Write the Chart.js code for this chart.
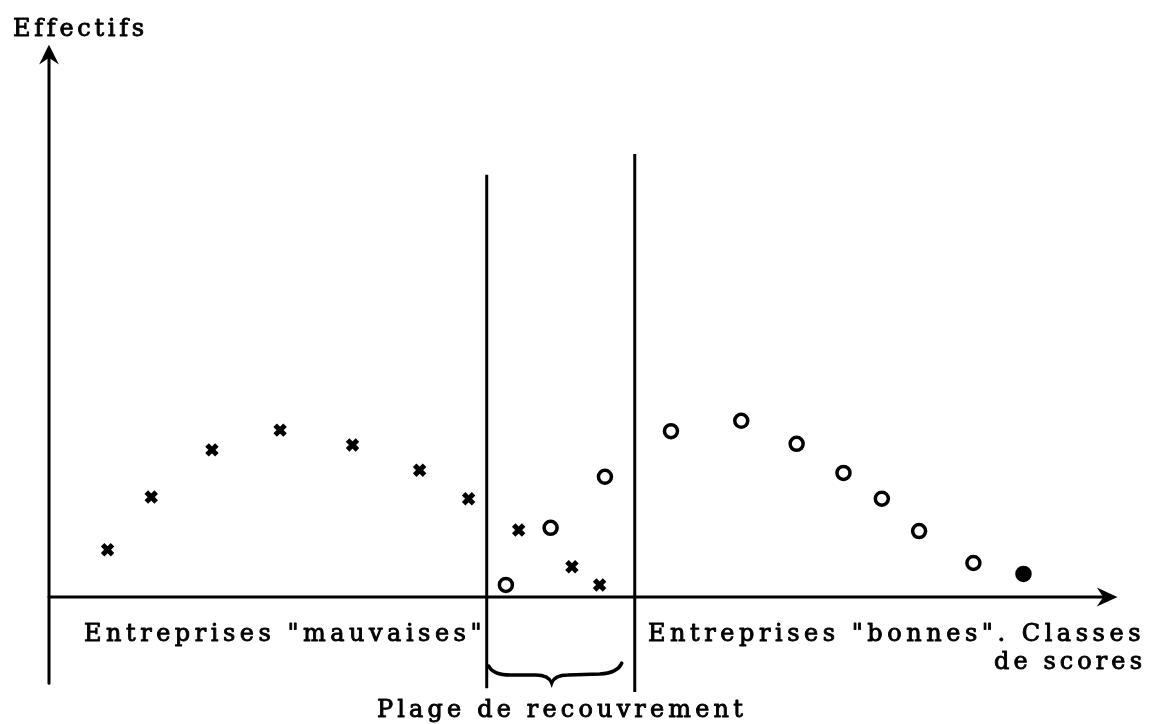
<!DOCTYPE html>
<html>
<head>
<meta charset="utf-8">
<script src="https://cdn.jsdelivr.net/npm/chart.js@4/dist/chart.umd.min.js"></script>
<style>
  body { margin: 0; background: #fff; }
  #wrap { width: 1154px; height: 724px; }
</style>
</head>
<body>
<div id="wrap"><canvas id="c" width="1154" height="724"></canvas></div>
<script>
// Classes de scores (x) and effectifs (y)
const mauvX = [5.5, 9.6, 15.3, 21.7, 28.5, 34.8, 39.4, 44.1, 49.1, 51.7];
const mauvY = [8.6, 18.2, 26.8, 30.4, 27.7, 23.1, 17.9, 12.2, 5.5, 2.2];
const bonX = [42.9, 47.1, 52.2, 58.4, 65.0, 70.2, 74.6, 78.2, 81.7, 86.8, 91.5];
const bonY = [2.2, 12.6, 21.9, 30.2, 32.1, 27.9, 22.6, 17.9, 12.0, 6.2, 4.2];

// Overlap zone boundaries (x) and how far they reach (y)
const leftBound = 41.1;
const rightBound = 55.0;
const leftBoundY = [-16.6, 76.9];
const rightBoundY = [-17.3, 80.7];
const yAxisBottom = -15.7;

// Labels
const yTitle = "Effectifs";
const badLabel = "Entreprises \"mauvaises\"";
const goodLabel = "Entreprises \"bonnes\". Classes";
const xTitle2 = "de scores";
const overlapLabel = "Plage de recouvrement";

const toPts = (xs, ys) => xs.map((x, i) => ({ x, y: ys[i] }));

// draw axes, arrows, brace and texts
const drawing = {
  id: "drawing",
  afterDatasetsDraw(chart) {
    const ctx = chart.ctx;
    const sx = chart.scales.x, sy = chart.scales.y;
    const X = v => sx.getPixelForValue(v);
    const Y = v => sy.getPixelForValue(v);
    ctx.save();
    ctx.strokeStyle = "#000";
    ctx.fillStyle = "#000";
    ctx.lineWidth = 3;
    ctx.lineCap = "round";

    // y axis
    ctx.beginPath();
    ctx.moveTo(X(0), Y(yAxisBottom));
    ctx.lineTo(X(0), Y(100) + 4);
    ctx.stroke();
    ctx.beginPath();
    ctx.moveTo(X(0), Y(100));
    ctx.lineTo(X(0) - 6, Y(100) + 12);
    ctx.lineTo(X(0), Y(100) + 8);
    ctx.lineTo(X(0) + 6, Y(100) + 12);
    ctx.closePath();
    ctx.fill();
    ctx.stroke();

    // x axis
    ctx.beginPath();
    ctx.moveTo(X(0), Y(0));
    ctx.lineTo(X(100) - 4, Y(0));
    ctx.stroke();
    ctx.beginPath();
    ctx.moveTo(X(100), Y(0));
    ctx.lineTo(X(100) - 13, Y(0) - 6);
    ctx.lineTo(X(100) - 9, Y(0));
    ctx.lineTo(X(100) - 13, Y(0) + 6);
    ctx.closePath();
    ctx.fill();
    ctx.stroke();

    // brace under the overlap zone
    const bx0 = X(leftBound) + 2, bx1 = X(rightBound) - 13;
    const bm = X(47.2);
    const by = Y(0) + 78, bt = Y(0) + 86, be = Y(0) + 69;
    ctx.lineWidth = 3.5;
    ctx.beginPath();
    ctx.moveTo(bx0, be);
    ctx.quadraticCurveTo(bx0 + 4, by, bx0 + 22, by);
    ctx.lineTo(bm - 16, by);
    ctx.quadraticCurveTo(bm - 3, by, bm, bt);
    ctx.quadraticCurveTo(bm + 3, by, bm + 16, by);
    ctx.lineTo(bx1 - 22, by - 1);
    ctx.quadraticCurveTo(bx1 - 4, by - 2, bx1, be - 3);
    ctx.stroke();

    // texts (book weight, slightly thickened like the typewriter print)
    const font = "24px 'DejaVu Serif'";
    const txt = (s, x, y, w, align) => {
      ctx.font = font;
      ctx.letterSpacing = "0px";
      const base = ctx.measureText(s).width;
      const sp = (w - base) / s.length;
      ctx.letterSpacing = sp.toFixed(2) + "px";
      ctx.textBaseline = "alphabetic";
      ctx.textAlign = "left";
      ctx.lineWidth = 0.9;
      ctx.lineJoin = "round";
      const x0 = align === "right" ? x - w : x;
      ctx.fillText(s, x0, y);
      ctx.strokeText(s, x0, y);
    };
    txt(yTitle, 13, 36, 134);
    txt(badLabel, 84, 641, 402);
    txt(goodLabel, 648, 641, 497);
    txt(xTitle2, 1146, 669, 152, "right");
    txt(overlapLabel, 377, 717, 370);
    ctx.restore();
  }
};

new Chart(document.getElementById("c"), {
  type: "scatter",
  data: {
    datasets: [
      {
        label: "Entreprises mauvaises",
        data: toPts(mauvX, mauvY),
        pointStyle: "crossRot",
        pointRadius: 7,
        pointBorderWidth: 5,
        borderColor: "#000",
        backgroundColor: "#000"
      },
      {
        label: "Entreprises bonnes",
        data: toPts(bonX, bonY),
        pointStyle: "circle",
        pointRadius: 6.5,
        pointBorderWidth: 3.5,
        borderColor: "#000",
        pointBackgroundColor: c => c.dataIndex === bonX.length - 1 ? "#000" : "#fff"
      },
      {
        type: "line",
        data: leftBoundY.map(y => ({ x: leftBound, y })),
        borderColor: "#000",
        borderWidth: 3,
        pointRadius: 0,
        clip: false
      },
      {
        type: "line",
        data: rightBoundY.map(y => ({ x: rightBound, y })),
        borderColor: "#000",
        borderWidth: 3,
        pointRadius: 0,
        clip: false
      }
    ]
  },
  options: {
    responsive: false,
    devicePixelRatio: 1,
    animation: false,
    layout: { padding: { left: 49, right: 40, top: 48, bottom: 127 } },
    plugins: { legend: { display: false }, tooltip: { enabled: false } },
    scales: {
      x: { type: "linear", min: 0, max: 100, display: false },
      y: { type: "linear", min: 0, max: 100, display: false }
    }
  },
  plugins: [drawing]
});
</script>
</body>
</html>
